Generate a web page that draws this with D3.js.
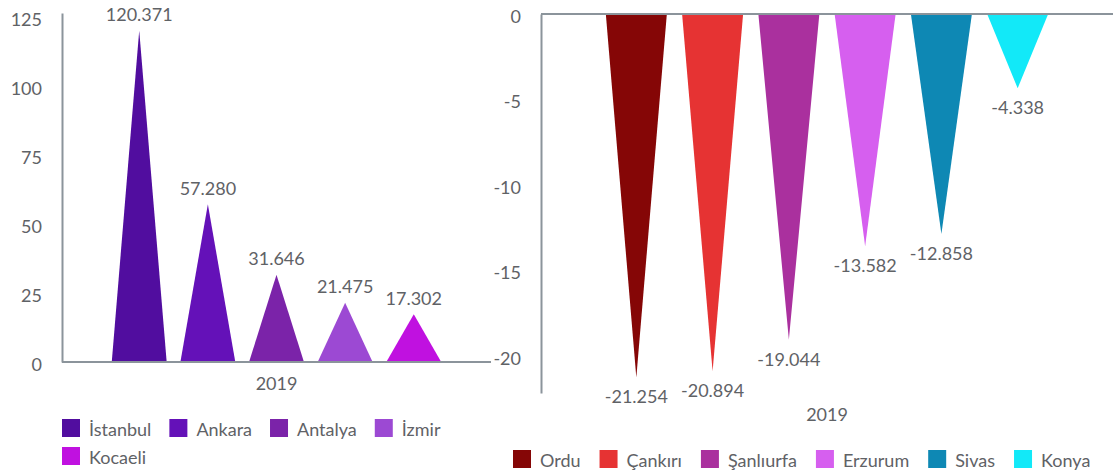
<!DOCTYPE html>
<html>
<head>
<meta charset="utf-8">
<script src="https://cdn.jsdelivr.net/npm/d3@7"></script>
<style>
  body { margin: 0; background: #fff; }
  svg { display: block; font-family: Lato, "Open Sans", sans-serif; }
</style>
</head>
<body>
<svg id="chart" width="1115" height="474"></svg>
<script>
// ---- data ----
const year = ["2019"];
const leftCities = ["İstanbul", "Ankara", "Antalya", "İzmir", "Kocaeli"];
const leftValues = [120.371, 57.280, 31.646, 21.475, 17.302];
const leftColors = ["#510d9f", "#6411b8", "#7b23a9", "#9c49d3", "#c011e0"];
const leftTicks = [0, 25, 50, 75, 100, 125];

const rightCities = ["Ordu", "Çankırı", "Şanlıurfa", "Erzurum", "Sivas", "Konya"];
const rightValues = [-21.254, -20.894, -19.044, -13.582, -12.858, -4.338];
const rightColors = ["#850606", "#e63333", "#aa309e", "#d65fef", "#0e88b4", "#12e9f8"];
const rightTicks = [0, -5, -10, -15, -20];

const fmt = v => v.toFixed(3);

const svg = d3.select("#chart");
const axisColor = "#8b949b";
const textColor = "#5f6266";
const fontSize = 18;

function panel(opts) {
  const g = svg.append("g");
  const y = d3.scaleLinear().domain(opts.yDomain).range(opts.yRange);
  const outer = d3.scaleBand().domain(year).range(opts.xRange).paddingOuter(0.125);
  const inner = d3.scaleBand().domain(opts.cities)
    .range([outer("2019"), outer("2019") + outer.bandwidth()])
    .paddingInner(0.2).paddingOuter(0.1);
  const color = d3.scaleOrdinal().domain(opts.cities).range(opts.colors);
  const data = opts.cities.map((c, i) => ({ c, v: opts.values[i] }));

  // triangles
  g.selectAll("path.tri").data(data).join("path")
    .attr("class", "tri")
    .attr("fill", d => color(d.c))
    .attr("d", d => {
      const x0 = inner(d.c), x1 = x0 + inner.bandwidth(), xm = x0 + inner.bandwidth() / 2;
      return `M${x0},${y(0)}L${xm},${y(d.v)}L${x1},${y(0)}Z`;
    });

  // y axis
  const ya = g.append("g").attr("transform", `translate(${opts.xRange[0]},0)`)
    .call(d3.axisLeft(y).tickValues(opts.ticks).tickSize(0).tickSizeOuter(0).tickPadding(20).tickFormat(d => String(d)));
  ya.select(".domain").attr("stroke", axisColor).attr("stroke-width", 2);
  ya.selectAll("text").attr("fill", textColor).attr("font-size", fontSize).attr("font-family", "Lato").attr("dy", "0.45em");

  // zero line
  g.append("line")
    .attr("x1", opts.xRange[0]).attr("x2", opts.xRange[1])
    .attr("y1", y(0)).attr("y2", y(0))
    .attr("stroke", axisColor).attr("stroke-width", 2);

  // category label
  const xa = g.append("g").attr("transform", `translate(0,${opts.yRange[0]})`)
    .call(d3.axisBottom(outer).tickSize(0).tickPadding(opts.catPad));
  xa.select(".domain").remove();
  xa.selectAll("text").attr("fill", textColor).attr("font-size", fontSize).attr("font-family", "Lato");

  // value labels
  g.selectAll("text.val").data(data).join("text")
    .attr("class", "val")
    .attr("x", d => inner(d.c) + inner.bandwidth() / 2)
    .attr("y", d => d.v >= 0 ? y(d.v) - 16 : y(d.v) + 19.5)
    .attr("dy", "0.35em")
    .attr("text-anchor", "middle")
    .attr("fill", textColor).attr("font-size", fontSize)
    .text(d => fmt(d.v));

  // legend
  const lg = g.append("g");
  let x = opts.legendX, row = 0;
  opts.cities.forEach(c => {
    const it = lg.append("g");
    it.append("rect").attr("width", 18).attr("height", 18).attr("fill", color(c));
    const t = it.append("text").attr("x", 27).attr("y", 10.5).attr("dy", "0.35em")
      .attr("fill", textColor).attr("font-size", fontSize).text(c);
    const w = 27 + t.node().getComputedTextLength();
    if (x + w > opts.legendMaxX && x > opts.legendX) { row++; x = opts.legendX; }
    it.attr("transform", `translate(${x},${opts.legendY + row * 28})`);
    x += w + opts.legendGap;
  });
}

panel({
  cities: leftCities, values: leftValues, colors: leftColors, ticks: leftTicks,
  yDomain: [0, 126.7], yRange: [362, 13], xRange: [62, 491], catPad: 15,
  legendX: 62, legendY: 419, legendMaxX: 491, legendGap: 18
});

panel({
  cities: rightCities, values: rightValues, colors: rightColors, ticks: rightTicks,
  yDomain: [-22.16, 0], yRange: [393, 14], xRange: [541, 1113], catPad: 15,
  legendX: 513, legendY: 450, legendMaxX: 1115, legendGap: 19
});
</script>
</body>
</html>
